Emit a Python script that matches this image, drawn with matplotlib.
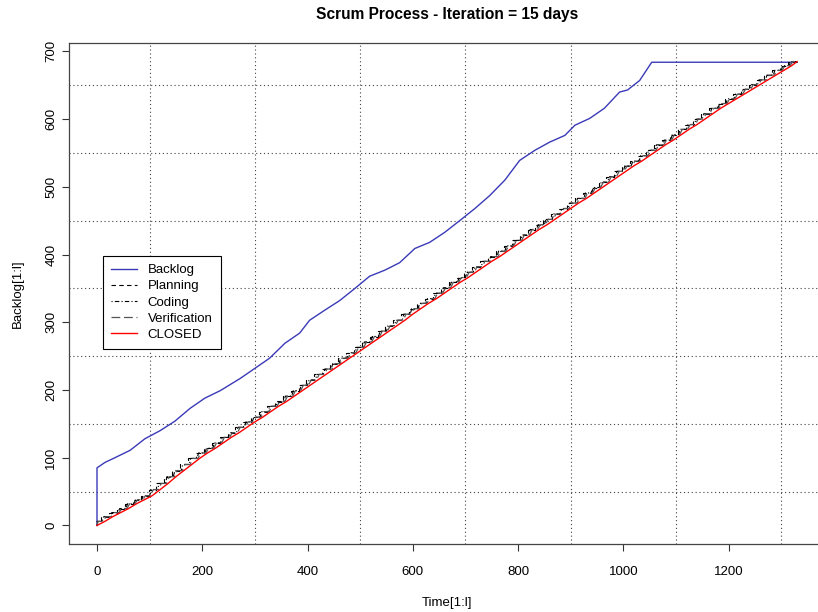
import numpy as np
import matplotlib.pyplot as plt

plt.rcParams['font.family'] = ['Liberation Sans', 'DejaVu Sans']

# backlog size over time (day, items)
backlog_t = [0, 0, 15, 34, 63, 91, 120, 148, 177, 205, 234, 272, 300, 328, 357,
             385, 404, 433, 461, 490, 518, 547, 575, 604, 632, 661, 689, 718,
             746, 775, 803, 832, 860, 889, 908, 936, 964, 993, 1008, 1031, 1054,
             1330]
backlog_v = [0, 85, 93, 100, 111, 128, 140, 154, 173, 188, 199, 217, 232, 247,
             269, 284, 303, 318, 332, 350, 368, 377, 388, 409, 418, 433, 450, 468,
             487, 510, 539, 554, 566, 576, 591, 601, 616, 640, 643, 657, 684, 684]

# items closed in each 15 day iteration
closed_per_iter = [6, 7, 6, 6, 7, 6, 6,
                   9, 9, 10, 9, 9, 9,
                   8, 7, 8, 8, 7, 8, 8, 7, 8, 8, 7, 8, 8, 8,
                   8, 8, 8, 8, 8, 8, 8, 8, 8, 8, 8, 8, 9,
                   8, 8, 7, 8, 8, 8, 7, 8, 8, 8, 7, 8, 8,
                   8, 8, 8, 7, 8, 8, 8, 8, 7, 8, 8, 8, 8, 8,
                   8, 7, 8, 8, 8, 7, 8, 8, 7, 8, 8, 8, 7,
                   7, 7, 7, 7, 7, 7, 7, 7, 6]

iter_len = 15
t_last = 1330

cum = np.concatenate([[0], np.cumsum(closed_per_iter)])
starts = np.arange(len(closed_per_iter)) * iter_len
ends = np.minimum(starts + iter_len, t_last)


def stage(a, b):
    # stage moves up to the iteration's scope between day a and day b
    # (negative days: the work starts before the iteration itself)
    x = np.column_stack([starts + a, starts + b]).ravel()
    y = np.column_stack([cum[:-1], cum[1:]]).ravel()
    x = np.clip(np.append(x, t_last), 0, t_last)
    return x, np.append(y, cum[-1])


fig = plt.figure(figsize=(8.18, 6.12), dpi=100)
ax = fig.add_axes([69 / 818, 1 - 544 / 612, 756 / 818, 501 / 612])

ax.plot(backlog_t, backlog_v, color='#3a3ab8', lw=1, label='Backlog')
x, y = stage(-7, -7)
ax.plot(x, y, color='black', lw=0.8, ls=(0, (4, 3)), label='Planning')
x, y = stage(-5, -2)
ax.plot(x, y, color='black', lw=0.8, ls=(0, (1, 2, 4, 2)), label='Coding')
x, y = stage(-3, 2)
ax.plot(x, y, color='#555555', lw=0.9, ls=(0, (7, 3)), label='Verification')
ax.plot(np.append(0, ends), cum, color='red', lw=1, label='CLOSED')

ax.set_xlim(-53.2, 1383.2)
ax.set_ylim(-27.4, 712.4)
ax.set_xticks(np.arange(0, 1201, 200))
ax.set_yticks(np.arange(0, 701, 100))
ax.set_xticks(np.arange(0, 1301, 100), minor=True)
ax.set_yticks(np.arange(0, 701, 50), minor=True)
ax.grid(which='minor', color='#444444', lw=0.8, ls=(0, (1, 2.5)))
ax.tick_params(which='minor', length=0)
ax.tick_params(which='major', direction='out', length=5, width=0.8,
               labelsize=9.5, color='#333333')
ax.tick_params(axis='x', pad=11)
ax.tick_params(axis='y', pad=3.5)
for lab in ax.get_yticklabels():
    lab.set_rotation(90)
    lab.set_va('center')
for s in ax.spines.values():
    s.set_color('#444444')
    s.set_linewidth(0.9)

ax.set_xlabel('Time[1:l]', fontsize=9.5)
ax.set_ylabel('Backlog[1:l]', fontsize=9.5)
ax.xaxis.set_label_coords(0.5, -0.105)
ax.yaxis.set_label_coords(-0.060, 0.5)
fig.text(447 / 818, 1 - 14 / 612, 'Scrum Process - Iteration = 15 days',
         ha='center', va='center', fontsize=11.2, fontweight='bold')

leg = ax.legend(loc='upper left', bbox_to_anchor=(103 / 818, 1 - 256 / 612),
                bbox_transform=fig.transFigure, fontsize=9.5, fancybox=False,
                edgecolor='black', framealpha=1, borderaxespad=0,
                handlelength=2.0, handletextpad=0.8, labelspacing=0.3,
                borderpad=0.6)
leg.get_frame().set_linewidth(0.8)

fig.savefig('out.png', dpi=100)
